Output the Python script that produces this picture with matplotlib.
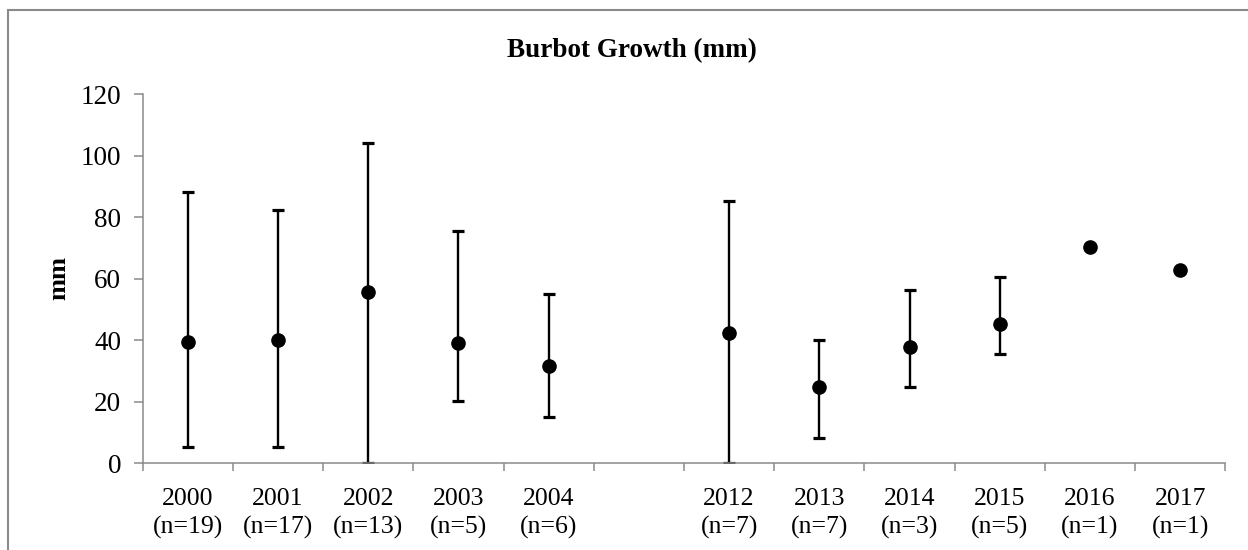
import numpy as np
import matplotlib.pyplot as plt
from matplotlib.patches import Rectangle

plt.rcParams['font.family'] = ['Liberation Serif', 'DejaVu Serif']

# sampling years (blank slot keeps the 2005-2011 gap), sample sizes, growth in mm
years = ['2000', '2001', '2002', '2003', '2004', '', '2012', '2013', '2014', '2015', '2016', '2017']
n_fish = [19, 17, 13, 5, 6, None, 7, 7, 3, 5, 1, 1]
mean_mm = [39.5, 40.1, 55.6, 39.0, 31.6, np.nan, 42.3, 24.9, 37.9, 45.3, 70.2, 63.0]
low_mm = [5.3, 5.3, 0.0, 20.4, 15.2, np.nan, 0.0, 8.3, 24.9, 35.4, np.nan, np.nan]
high_mm = [88.1, 82.4, 104.2, 75.6, 55.2, np.nan, 85.4, 40.1, 56.3, 60.5, np.nan, np.nan]

tick_labels = [f'{y}\n(n={n})' if y else '' for y, n in zip(years, n_fish)]

W, H = 1248, 550
fig = plt.figure(figsize=(W / 100, H / 100), dpi=100)

# outer chart border (runs off the right and bottom edges)
fig.patches.append(Rectangle((8 / W, -0.1), 1.2, 1 - 10 / H + 0.1, transform=fig.transFigure,
                             fill=False, edgecolor='#8a8a8a', linewidth=1.5))

ax = fig.add_axes([142.7 / W, 1 - 463.3 / H, 1082.6 / W, 369.0 / H])

x = np.arange(len(years))
mean = np.array(mean_mm)
lo = np.array(low_mm)
hi = np.array(high_mm)
has_err = ~np.isnan(lo)

ax.errorbar(x[has_err], mean[has_err],
            yerr=[mean[has_err] - lo[has_err], hi[has_err] - mean[has_err]],
            fmt='none', ecolor='black', elinewidth=1.7, capsize=4.5, capthick=2.3, zorder=2)
ok = ~np.isnan(mean)
ax.plot(x[ok], mean[ok], 'o', color='black', markersize=9.5, zorder=3)

ax.set_xlim(-0.5, len(years) - 0.5)
ax.set_ylim(0, 120)
ax.set_yticks(np.arange(0, 121, 20))
ax.set_xticks(x)
ax.set_xticklabels(tick_labels, fontsize=18.5, linespacing=1.38)
ax.set_xticks(np.arange(-0.5, len(years), 1), minor=True)
ax.tick_params(axis='x', which='major', length=0, pad=17.5)
ax.tick_params(axis='x', which='minor', length=6, width=1.1, color='#8a8a8a', direction='out')
ax.tick_params(axis='y', length=6.5, width=1.1, color='#8a8a8a', direction='out', pad=9, labelsize=19.5)

for side in ['top', 'right']:
    ax.spines[side].set_visible(False)
for side in ['left', 'bottom']:
    ax.spines[side].set_color('#8a8a8a')
    ax.spines[side].set_linewidth(1.1)

fig.text(632 / W, 1 - 51 / H, 'Burbot Growth (mm)', ha='center', va='center',
         fontsize=19.5, fontweight='bold')
fig.text(59 / W, 1 - 278 / H, 'mm', ha='center', va='center', rotation=90,
         fontsize=19, fontweight='bold')

fig.savefig('out.png', dpi=100)
